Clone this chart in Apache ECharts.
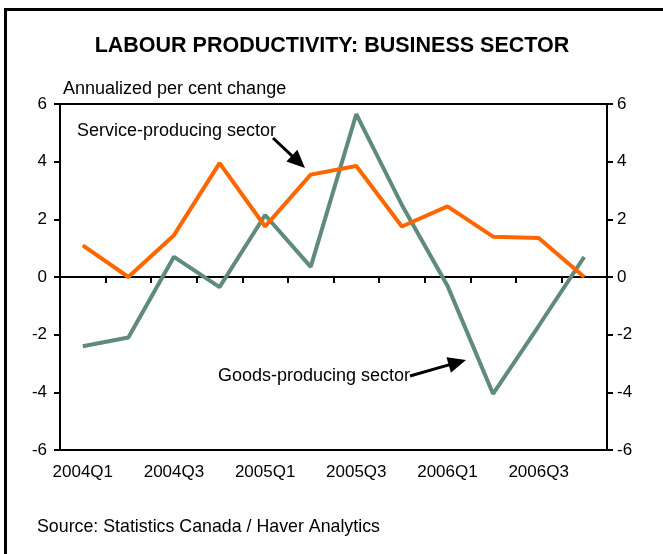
<!DOCTYPE html>
<html>
<head>
<meta charset="utf-8">
<script src="https://cdn.jsdelivr.net/npm/echarts@6/dist/echarts.min.js"></script>
<style>
html,body{margin:0;padding:0;background:#fff;}
#c{width:663px;height:554px;}
</style>
</head>
<body>
<div id="c"></div>
<script>
var categories = ['2004Q1','2004Q2','2004Q3','2004Q4','2005Q1','2005Q2','2005Q3','2005Q4','2006Q1','2006Q2','2006Q3','2006Q4'];
var serviceValues = [1.1, 0.0, 1.45, 3.95, 1.75, 3.55, 3.85, 1.75, 2.45, 1.4, 1.35, 0.0];
var goodsValues = [-2.4, -2.1, 0.7, -0.35, 2.15, 0.35, 5.65, 2.5, -0.3, -4.05, -1.7, 0.7];
var yTicks = [-6, -4, -2, 0, 2, 4, 6];

var chart = echarts.init(document.getElementById('c'), null, {renderer: 'canvas'});
var FONT = 'Liberation Sans, Arial, sans-serif';

function yAxisDef(pos) {
  return {
    type: 'value', position: pos, min: yTicks[0], max: yTicks[yTicks.length - 1], interval: 2,
    axisLine: {show: true, lineStyle: {color: '#000', width: 2}},
    axisTick: {show: true, inside: false, length: 6, lineStyle: {color: '#000', width: 2}},
    axisLabel: {color: '#000', fontSize: 17, fontFamily: FONT, margin: pos === 'left' ? 13 : 10},
    splitLine: {show: false}
  };
}

function arrow(x1, y1, x2, y2) {
  var dx = x2 - x1, dy = y2 - y1, L = Math.sqrt(dx * dx + dy * dy);
  var ux = dx / L, uy = dy / L, hl = 18, hw = 8;
  var bx = x2 - ux * hl, by = y2 - uy * hl;
  return [
    {type: 'line', shape: {x1: x1, y1: y1, x2: bx + ux * 2, y2: by + uy * 2}, style: {stroke: '#000', lineWidth: 3}, z: 100},
    {type: 'polygon', shape: {points: [[x2, y2], [bx - uy * hw, by + ux * hw], [bx + uy * hw, by - ux * hw]]}, style: {fill: '#000'}, z: 100}
  ];
}

var graphics = [
  {type: 'rect', shape: {x: 5.5, y: 9.5, width: 700, height: 600}, style: {fill: null, stroke: '#000', lineWidth: 3}, z: 100},
  {type: 'text', x: 332, y: 46, style: {text: 'LABOUR PRODUCTIVITY: BUSINESS SECTOR', font: 'bold 21.5px ' + FONT, fill: '#000', textAlign: 'center', textVerticalAlign: 'middle'}, z: 100},
  {type: 'text', x: 63, y: 89, style: {text: 'Annualized per cent change', font: '18px ' + FONT, fill: '#000', textAlign: 'left', textVerticalAlign: 'middle'}, z: 100},
  {type: 'text', x: 77, y: 131, style: {text: 'Service-producing sector', font: '18px ' + FONT, fill: '#000', textAlign: 'left', textVerticalAlign: 'middle'}, z: 100},
  {type: 'text', x: 218, y: 376, style: {text: 'Goods-producing sector', font: '18px ' + FONT, fill: '#000', textAlign: 'left', textVerticalAlign: 'middle'}, z: 100},
  {type: 'text', x: 37, y: 527, style: {text: 'Source: Statistics Canada / Haver Analytics', font: '17.8px ' + FONT, fill: '#000', textAlign: 'left', textVerticalAlign: 'middle'}, z: 100}
].concat(arrow(273, 138, 305, 168)).concat(arrow(410, 376, 466, 360));

chart.setOption({
  animation: false,
  backgroundColor: '#fff',
  grid: {left: 60, right: 56, top: 104, bottom: 104, show: true, borderColor: '#000', borderWidth: 2, backgroundColor: 'transparent'},
  xAxis: [
    {
      type: 'category', data: categories, boundaryGap: true,
      axisLine: {show: true, onZero: true, lineStyle: {color: '#000', width: 2}},
      axisTick: {show: true, inside: false, length: 6, interval: 0, lineStyle: {color: '#000', width: 2}},
      axisLabel: {show: false},
      splitLine: {show: false}
    },
    {
      type: 'category', data: categories, boundaryGap: true, position: 'bottom',
      axisLine: {show: false, onZero: false},
      axisTick: {show: false},
      axisLabel: {show: true, interval: 1, color: '#000', fontSize: 17, fontFamily: FONT, margin: 14},
      splitLine: {show: false}
    }
  ],
  yAxis: [yAxisDef('left'), yAxisDef('right')],
  series: [
    {
      name: 'Goods-producing sector', type: 'line', data: goodsValues, xAxisIndex: 0, yAxisIndex: 0,
      symbol: 'none', lineStyle: {color: '#5F8B7A', width: 4}, z: 3
    },
    {
      name: 'Service-producing sector', type: 'line', data: serviceValues, xAxisIndex: 0, yAxisIndex: 0,
      symbol: 'none', lineStyle: {color: '#FF6600', width: 4}, z: 4
    }
  ],
  graphic: graphics
});
</script>
</body>
</html>
